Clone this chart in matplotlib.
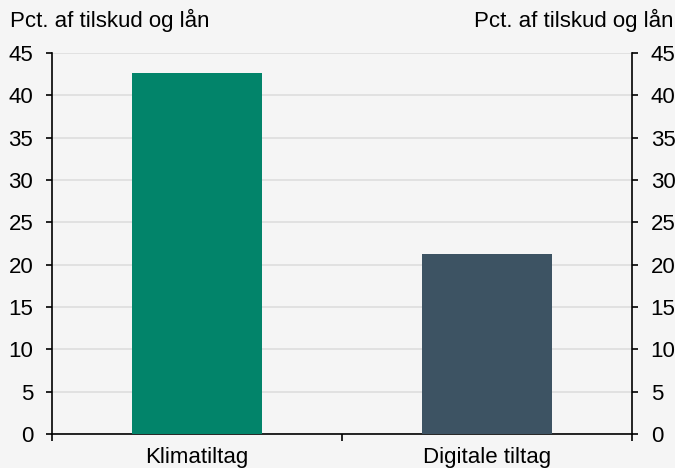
import numpy as np
import matplotlib.pyplot as plt

categories = ["Klimatiltag", "Digitale tiltag"]
values = [42.6, 21.3]
colors = ["#02846A", "#3D5363"]
yticks = [0, 5, 10, 15, 20, 25, 30, 35, 40, 45]
unit_label = "Pct. af tilskud og lån"

plt.rcParams['font.family'] = ['Liberation Sans', 'DejaVu Sans']
fs = 16

fig = plt.figure(figsize=(6.75, 4.68), dpi=100, facecolor="#f5f5f5")
ax = fig.add_axes([52 / 675, 1 - 434 / 468, 580 / 675, 381 / 468])
ax.set_facecolor("#f5f5f5")

x = np.arange(len(categories))
ax.bar(x, values, width=0.445, color=colors, zorder=3)

ax.set_xlim(-0.5, 1.5)
ax.set_ylim(0, 45)
ax.set_yticks(yticks)
ax.yaxis.grid(True, color="#dddddd", linewidth=1.2, zorder=0)
ax.set_axisbelow(True)

# category labels centred, ticks on the boundaries
ax.set_xticks([-0.5, 0.5, 1.5])
ax.set_xticklabels([])
ax.set_xticks(x, minor=True)
ax.set_xticklabels(categories, minor=True, fontsize=fs)
ax.tick_params(axis="x", which="minor", length=0, pad=9)
ax.tick_params(axis="x", which="major", direction="out", length=5, width=1.2)

ax.tick_params(axis="y", direction="out", length=4.5, width=1.2, labelsize=fs,
               left=True, right=True, labelleft=True, labelright=True, pad=9)

for side in ["left", "right", "bottom"]:
    ax.spines[side].set_color("black")
    ax.spines[side].set_linewidth(1.2)
ax.spines["top"].set_visible(False)

fig.text(10 / 675, 1 - 20 / 468, unit_label, fontsize=fs, ha="left", va="center")
fig.text(674 / 675, 1 - 20 / 468, unit_label, fontsize=fs, ha="right", va="center")

fig.savefig("out.png", dpi=100, facecolor=fig.get_facecolor())
